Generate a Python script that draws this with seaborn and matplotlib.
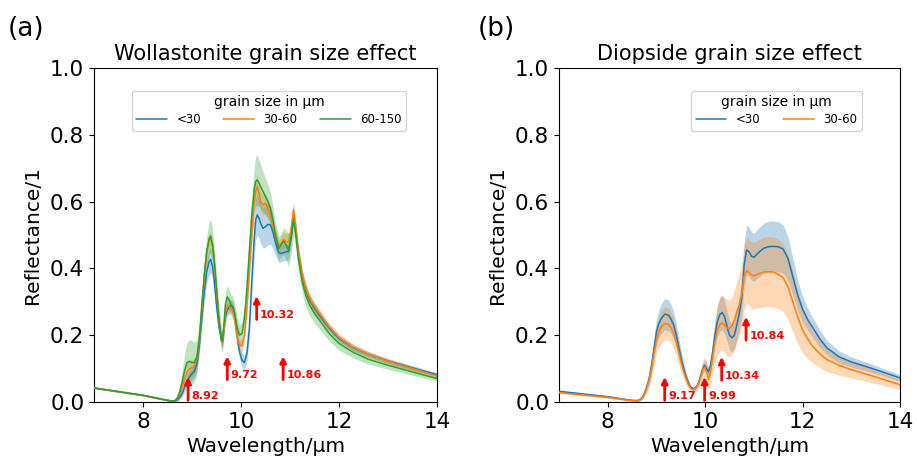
import numpy as np
import pandas as pd
import matplotlib
matplotlib.use("Agg")
import matplotlib.pyplot as plt
import seaborn as sns

# ---------------- data: (a) Wollastonite ----------------
wl_a = [7.0, 7.5, 8.0, 8.3, 8.5, 8.6, 8.65, 8.7, 8.75, 8.8,
        8.85, 8.9, 8.95, 9.0, 9.05, 9.1, 9.15, 9.2, 9.25, 9.3,
        9.35, 9.38, 9.42, 9.45, 9.5, 9.55, 9.6, 9.62, 9.65, 9.68,
        9.72, 9.76, 9.8, 9.84, 9.88, 9.92, 9.97, 10.02, 10.07, 10.12,
        10.17, 10.22, 10.27, 10.3, 10.33, 10.37, 10.4, 10.45, 10.5, 10.55,
        10.6, 10.65, 10.7, 10.77, 10.82, 10.87, 10.92, 10.97, 11.02, 11.07,
        11.12, 11.17, 11.25, 11.32, 11.4, 11.5, 11.6, 11.7, 11.8, 12.0,
        12.3, 12.6, 13.0, 13.5, 14.0]

wo_lt30 = [0.042, 0.031, 0.020, 0.011, 0.005, 0.003, 0.003, 0.007, 0.014, 0.025,
           0.045, 0.062, 0.075, 0.085, 0.092, 0.115, 0.170, 0.250, 0.330, 0.390,
           0.420, 0.427, 0.405, 0.370, 0.290, 0.225, 0.185, 0.180, 0.215, 0.255,
           0.275, 0.285, 0.290, 0.280, 0.245, 0.195, 0.150, 0.125, 0.118, 0.145,
           0.220, 0.360, 0.490, 0.545, 0.560, 0.550, 0.535, 0.520, 0.525, 0.532,
           0.530, 0.510, 0.480, 0.447, 0.445, 0.447, 0.450, 0.450, 0.490, 0.555,
           0.510, 0.445, 0.375, 0.335, 0.305, 0.280, 0.260, 0.240, 0.222, 0.190,
           0.162, 0.143, 0.123, 0.102, 0.082]
wo_30_60 = [0.042, 0.031, 0.020, 0.011, 0.005, 0.003, 0.004, 0.010, 0.022, 0.045,
            0.070, 0.090, 0.100, 0.102, 0.108, 0.130, 0.185, 0.280, 0.375, 0.445,
            0.485, 0.490, 0.465, 0.425, 0.335, 0.245, 0.185, 0.178, 0.215, 0.265,
            0.290, 0.285, 0.280, 0.270, 0.235, 0.195, 0.170, 0.168, 0.200, 0.280,
            0.390, 0.500, 0.595, 0.630, 0.645, 0.625, 0.600, 0.590, 0.595, 0.580,
            0.560, 0.530, 0.495, 0.465, 0.475, 0.487, 0.480, 0.480, 0.510, 0.575,
            0.520, 0.450, 0.380, 0.340, 0.310, 0.285, 0.265, 0.245, 0.225, 0.193,
            0.163, 0.143, 0.122, 0.100, 0.078]
wo_60_150 = [0.042, 0.031, 0.020, 0.011, 0.005, 0.003, 0.004, 0.012, 0.030, 0.060,
             0.095, 0.118, 0.122, 0.118, 0.118, 0.135, 0.190, 0.290, 0.380, 0.450,
             0.490, 0.497, 0.470, 0.430, 0.340, 0.250, 0.190, 0.182, 0.230, 0.290,
             0.315, 0.305, 0.290, 0.285, 0.260, 0.225, 0.200, 0.205, 0.250, 0.340,
             0.450, 0.560, 0.635, 0.660, 0.665, 0.655, 0.645, 0.630, 0.615, 0.600,
             0.580, 0.545, 0.500, 0.460, 0.470, 0.482, 0.470, 0.455, 0.490, 0.545,
             0.500, 0.430, 0.360, 0.320, 0.290, 0.265, 0.245, 0.225, 0.205, 0.175,
             0.148, 0.128, 0.110, 0.090, 0.070]

wo_lt30_sd = [0.002, 0.002, 0.002, 0.002, 0.002, 0.002, 0.002, 0.004, 0.007, 0.010,
              0.014, 0.018, 0.020, 0.020, 0.020, 0.020, 0.022, 0.026, 0.032, 0.038,
              0.040, 0.040, 0.038, 0.035, 0.030, 0.025, 0.020, 0.020, 0.020, 0.020,
              0.020, 0.018, 0.018, 0.018, 0.018, 0.020, 0.022, 0.022, 0.022, 0.025,
              0.032, 0.045, 0.055, 0.060, 0.060, 0.060, 0.060, 0.060, 0.062, 0.062,
              0.058, 0.050, 0.040, 0.030, 0.025, 0.025, 0.025, 0.025, 0.022, 0.020,
              0.018, 0.016, 0.015, 0.014, 0.013, 0.012, 0.012, 0.011, 0.010, 0.010,
              0.009, 0.008, 0.007, 0.007, 0.006]
wo_30_60_sd = [0.002, 0.002, 0.002, 0.002, 0.002, 0.002, 0.002, 0.005, 0.010, 0.015,
               0.020, 0.025, 0.025, 0.025, 0.025, 0.022, 0.020, 0.020, 0.020, 0.020,
               0.020, 0.020, 0.020, 0.020, 0.020, 0.018, 0.018, 0.018, 0.020, 0.022,
               0.025, 0.022, 0.020, 0.020, 0.020, 0.018, 0.018, 0.018, 0.020, 0.025,
               0.028, 0.032, 0.035, 0.035, 0.035, 0.033, 0.030, 0.030, 0.030, 0.028,
               0.026, 0.024, 0.022, 0.020, 0.020, 0.022, 0.025, 0.025, 0.025, 0.025,
               0.022, 0.020, 0.018, 0.017, 0.016, 0.015, 0.014, 0.013, 0.012, 0.012,
               0.010, 0.009, 0.008, 0.007, 0.006]
wo_60_150_sd = [0.002, 0.002, 0.002, 0.002, 0.002, 0.002, 0.003, 0.010, 0.020, 0.035,
                0.050, 0.060, 0.065, 0.065, 0.060, 0.050, 0.040, 0.035, 0.040, 0.045,
                0.050, 0.050, 0.050, 0.045, 0.040, 0.035, 0.035, 0.035, 0.035, 0.035,
                0.035, 0.030, 0.030, 0.030, 0.030, 0.030, 0.030, 0.035, 0.040, 0.045,
                0.050, 0.060, 0.070, 0.075, 0.075, 0.070, 0.065, 0.060, 0.055, 0.050,
                0.050, 0.045, 0.040, 0.035, 0.035, 0.040, 0.045, 0.050, 0.050, 0.045,
                0.040, 0.040, 0.035, 0.035, 0.030, 0.030, 0.025, 0.025, 0.022, 0.020,
                0.017, 0.015, 0.012, 0.010, 0.008]

peaks_a = ["8.92", "9.72", "10.32", "10.86"]
peak_base_a = [0.005, 0.067, 0.247, 0.067]

# ---------------- data: (b) Diopside ----------------
wl_b = [7.0, 7.5, 8.0, 8.3, 8.5, 8.6, 8.65, 8.7, 8.75, 8.8,
        8.85, 8.9, 8.95, 9.0, 9.05, 9.1, 9.17, 9.25, 9.3, 9.35,
        9.4, 9.45, 9.5, 9.55, 9.6, 9.65, 9.7, 9.75, 9.8, 9.85,
        9.9, 9.95, 9.99, 10.03, 10.07, 10.11, 10.15, 10.2, 10.25, 10.3,
        10.35, 10.4, 10.45, 10.5, 10.55, 10.6, 10.65, 10.7, 10.75, 10.8,
        10.85, 10.9, 10.95, 11.0, 11.1, 11.2, 11.3, 11.4, 11.5, 11.6,
        11.7, 11.8, 11.9, 12.0, 12.1, 12.2, 12.35, 12.5, 12.75, 13.0,
        13.5, 14.0]

di_lt30 = [0.032, 0.024, 0.016, 0.009, 0.005, 0.004, 0.006, 0.012, 0.025, 0.045,
           0.070, 0.110, 0.160, 0.210, 0.235, 0.250, 0.263, 0.260, 0.248, 0.232,
           0.205, 0.170, 0.135, 0.105, 0.080, 0.060, 0.045, 0.040, 0.042, 0.052,
           0.075, 0.100, 0.110, 0.100, 0.090, 0.110, 0.145, 0.200, 0.240, 0.262,
           0.268, 0.255, 0.225, 0.200, 0.192, 0.200, 0.230, 0.265, 0.310, 0.410,
           0.455, 0.450, 0.437, 0.433, 0.448, 0.460, 0.465, 0.466, 0.465, 0.458,
           0.430, 0.375, 0.320, 0.278, 0.248, 0.225, 0.190, 0.162, 0.135, 0.120,
           0.097, 0.072]
di_30_60 = [0.028, 0.021, 0.014, 0.008, 0.004, 0.004, 0.006, 0.012, 0.024, 0.042,
            0.065, 0.100, 0.145, 0.185, 0.210, 0.225, 0.235, 0.232, 0.222, 0.207,
            0.183, 0.153, 0.122, 0.095, 0.073, 0.055, 0.042, 0.037, 0.040, 0.050,
            0.072, 0.097, 0.105, 0.090, 0.068, 0.090, 0.130, 0.180, 0.215, 0.232,
            0.237, 0.230, 0.222, 0.220, 0.228, 0.245, 0.270, 0.290, 0.320, 0.375,
            0.393, 0.388, 0.380, 0.378, 0.384, 0.389, 0.390, 0.389, 0.383, 0.372,
            0.345, 0.300, 0.255, 0.215, 0.190, 0.168, 0.145, 0.127, 0.110, 0.097,
            0.075, 0.052]

di_lt30_sd = [0.003, 0.003, 0.003, 0.003, 0.003, 0.003, 0.003, 0.005, 0.008, 0.012,
              0.018, 0.025, 0.032, 0.038, 0.042, 0.045, 0.047, 0.046, 0.044, 0.040,
              0.035, 0.030, 0.024, 0.018, 0.013, 0.009, 0.006, 0.005, 0.006, 0.008,
              0.012, 0.015, 0.016, 0.015, 0.014, 0.020, 0.028, 0.038, 0.045, 0.050,
              0.052, 0.050, 0.045, 0.043, 0.042, 0.042, 0.045, 0.050, 0.055, 0.065,
              0.075, 0.074, 0.072, 0.072, 0.074, 0.075, 0.076, 0.076, 0.075, 0.072,
              0.065, 0.055, 0.045, 0.038, 0.033, 0.030, 0.026, 0.022, 0.018, 0.015,
              0.012, 0.010]
di_30_60_sd = [0.003, 0.003, 0.003, 0.003, 0.003, 0.003, 0.003, 0.006, 0.010, 0.015,
               0.022, 0.030, 0.037, 0.043, 0.047, 0.050, 0.050, 0.049, 0.047, 0.044,
               0.040, 0.035, 0.030, 0.024, 0.018, 0.012, 0.008, 0.007, 0.010, 0.015,
               0.022, 0.028, 0.030, 0.030, 0.030, 0.038, 0.050, 0.065, 0.075, 0.080,
               0.082, 0.083, 0.085, 0.085, 0.087, 0.090, 0.092, 0.094, 0.095, 0.097,
               0.098, 0.098, 0.100, 0.100, 0.102, 0.104, 0.105, 0.105, 0.104, 0.102,
               0.098, 0.090, 0.080, 0.068, 0.058, 0.050, 0.042, 0.036, 0.030, 0.025,
               0.020, 0.015]

peaks_b = ["9.17", "9.99", "10.34", "10.84"]
peak_base_b = [0.005, 0.005, 0.065, 0.185]

grain_labels_a = ["<30", "30-60", "60-150"]
grain_labels_b = ["<30", "30-60"]
colors = ["#1f77b4", "#ff7f0e", "#2ca02c"]

# ---------------- style ----------------
sns.set_style("ticks", rc={
    "axes.edgecolor": "black",
    "axes.labelcolor": "black",
    "text.color": "black",
    "axes.linewidth": 1.5,
    "xtick.color": "black",
    "ytick.color": "black",
    "xtick.major.width": 1.5,
    "ytick.major.width": 1.5,
    "xtick.major.size": 4,
    "ytick.major.size": 4,
})
plt.rcParams["font.family"] = ["DejaVu Sans"]

fig = plt.figure(figsize=(9.17, 4.62), dpi=100)
ax1 = fig.add_axes([94 / 917, 60 / 462, 343 / 917, 334 / 462])
ax2 = fig.add_axes([559 / 917, 60 / 462, 341 / 917, 334 / 462])


def draw_panel(ax, wl, means, sds, labels, title, peaks, bases, leg_anchor, leg_loc, ncol):
    frames = []
    for lab, m in zip(labels, means):
        frames.append(pd.DataFrame({"wavelength": wl, "reflectance": m, "grain": lab}))
    df = pd.concat(frames, ignore_index=True)
    for i, (m, s) in enumerate(zip(means, sds)):
        m = np.asarray(m)
        s = np.asarray(s)
        ax.fill_between(wl, m - s, m + s, color=colors[i], alpha=0.3, lw=0, zorder=1 + i)
    for i, lab in enumerate(labels):
        sub = df[df["grain"] == lab]
        sns.lineplot(data=sub, x="wavelength", y="reflectance", color=colors[i],
                     lw=1.1, ax=ax, label=lab, zorder=5 + i, errorbar=None)
    for p, b in zip(peaks, bases):
        x = float(p)
        ax.annotate("", xy=(x, b + 0.07), xytext=(x, b),
                    arrowprops=dict(arrowstyle="-|>", color="red", lw=2.0,
                                    mutation_scale=9, shrinkA=0, shrinkB=0),
                    zorder=10)
        ax.text(x + 0.07, b - 0.002, p, color="red", fontsize=8, fontweight="bold",
                ha="left", va="bottom", zorder=10)
    ax.set_xlim(7, 14)
    ax.set_ylim(0, 1)
    ax.set_xticks([8, 10, 12, 14])
    ax.set_yticks([0.0, 0.2, 0.4, 0.6, 0.8, 1.0])
    ax.set_yticklabels(["0.0", "0.2", "0.4", "0.6", "0.8", "1.0"])
    ax.tick_params(labelsize=15.5)
    ax.set_xlabel("Wavelength/µm", fontsize=14.5)
    ax.set_ylabel("Reflectance/1", fontsize=14.5, labelpad=6)
    ax.set_title(title, fontsize=15)
    handles, labs = ax.get_legend_handles_labels()
    ax.legend(handles, labs, title="grain size in µm", ncol=ncol, loc=leg_loc,
              bbox_to_anchor=leg_anchor, fontsize=8.5, title_fontsize=10,
              handlelength=2.6, columnspacing=1.9, borderpad=0.4,
              labelspacing=0.3, frameon=True)


draw_panel(ax1, wl_a, [wo_lt30, wo_30_60, wo_60_150],
           [wo_lt30_sd, wo_30_60_sd, wo_60_150_sd], grain_labels_a,
           "Wollastonite grain size effect", peaks_a, peak_base_a,
           (0.51, 0.95), "upper center", 3)
draw_panel(ax2, wl_b, [di_lt30, di_30_60], [di_lt30_sd, di_30_60_sd], grain_labels_b,
           "Diopside grain size effect", peaks_b, peak_base_b,
           (0.905, 0.95), "upper right", 2)

fig.text(8 / 917, 1 - 29 / 462, "(a)", fontsize=19, va="center", ha="left")
fig.text(478 / 917, 1 - 29 / 462, "(b)", fontsize=19, va="center", ha="left")

fig.savefig("out.png", dpi=100)
